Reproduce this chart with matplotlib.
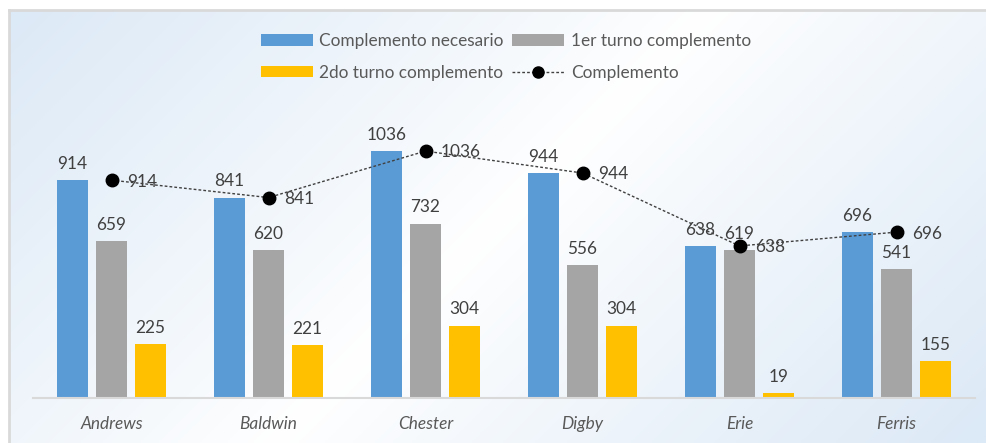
import numpy as np
import matplotlib.pyplot as plt
from matplotlib.patches import Patch
from matplotlib.lines import Line2D

# data
categories = ["Andrews", "Baldwin", "Chester", "Digby", "Erie", "Ferris"]
necesario = [914, 841, 1036, 944, 638, 696]
turno1 = [659, 620, 732, 556, 619, 541]
turno2 = [225, 221, 304, 304, 19, 155]
complemento = [914, 841, 1036, 944, 638, 696]

series_names = ["Complemento necesario", "1er turno complemento",
                "2do turno complemento", "Complemento"]
colors = ["#5b9bd5", "#a5a5a5", "#ffc000"]
text_color = "#404040"
fs = 12.4

plt.rcParams["font.family"] = ["Lato", "DejaVu Sans"]

W, H = 986, 443
fig = plt.figure(figsize=(W / 100, H / 100), dpi=100)

# background gradient (chart area box): blue top-left and bottom-right, white diagonal
bg = fig.add_axes([9 / W, 0, 1 - 9 / W, (H - 10) / H])
py, px = np.mgrid[0:433:217j, 0:977:489j]
s = px + py
d = np.clip(np.abs(s - 700) / 700, 0, 1) ** 0.9
c_white = np.array([1.0, 1.0, 1.0])
c_blue = np.array([0xdc, 0xe9, 0xf6]) / 255
img = c_white[None, None, :] * (1 - d[..., None]) + c_blue[None, None, :] * d[..., None]
bg.imshow(img, aspect="auto", extent=[0, 1, 0, 1], origin="upper")
bg.set_xlim(0, 1)
bg.set_ylim(0, 1)
bg.set_xticks([])
bg.set_yticks([])
for side in ["right", "bottom"]:
    bg.spines[side].set_visible(False)
for side in ["top", "left"]:
    bg.spines[side].set_color("#d9d9d9")
    bg.spines[side].set_linewidth(2)

ax = fig.add_axes([33 / W, (H - 398) / H, (975 - 33) / W, (398 - 112) / H])
ax.patch.set_alpha(0)
ax.set_zorder(2)

x = np.arange(len(categories))
bw = 0.197
off = 0.248
for i, vals in enumerate([necesario, turno1, turno2]):
    xs = x + (i - 1) * off
    ax.bar(xs, vals, bw, color=colors[i], zorder=2)
    for xi, v in zip(xs, vals):
        ax.annotate(str(v), (xi, v), xytext=(0, 6), textcoords="offset points",
                    ha="center", va="bottom", fontsize=fs, color=text_color)

ax.plot(x, complemento, linestyle=(0, (2, 1.5)), color="#404040", linewidth=1,
        marker="o", markersize=9, markerfacecolor="black",
        markeredgecolor="black", zorder=3)
for xi, v in zip(x, complemento):
    ax.annotate(str(v), (xi, v), xytext=(11, -1), textcoords="offset points",
                ha="left", va="center", fontsize=fs, color=text_color)

ax.set_xlim(-0.5, len(categories) - 0.5)
ax.set_ylim(0, 1200)
ax.set_yticks([])
ax.set_xticks(x)
ax.set_xticklabels(categories, fontsize=fs, style="italic", color="#595959")
ax.tick_params(axis="x", length=0, pad=13)
for side in ["top", "right", "left"]:
    ax.spines[side].set_visible(False)
ax.spines["bottom"].set_color("#d9d9d9")
ax.spines["bottom"].set_linewidth(1.5)

handles = [
    Patch(facecolor=colors[0]),
    Patch(facecolor=colors[2]),
    Patch(facecolor=colors[1]),
    Line2D([0], [0], linestyle=(0, (2, 1.5)), color="#404040", linewidth=1,
           marker="o", markersize=8, markerfacecolor="black", markeredgecolor="black"),
]
labels = [series_names[0], series_names[2], series_names[1], series_names[3]]
fig.legend(handles, labels, ncol=2, loc="center", bbox_to_anchor=(506 / W, 1 - 57 / H),
           frameon=False, fontsize=fs, labelcolor="#595959", handlelength=3.0,
           handleheight=0.65, handletextpad=0.4, columnspacing=0.5, labelspacing=0.9)

fig.savefig("out.png", dpi=100)
